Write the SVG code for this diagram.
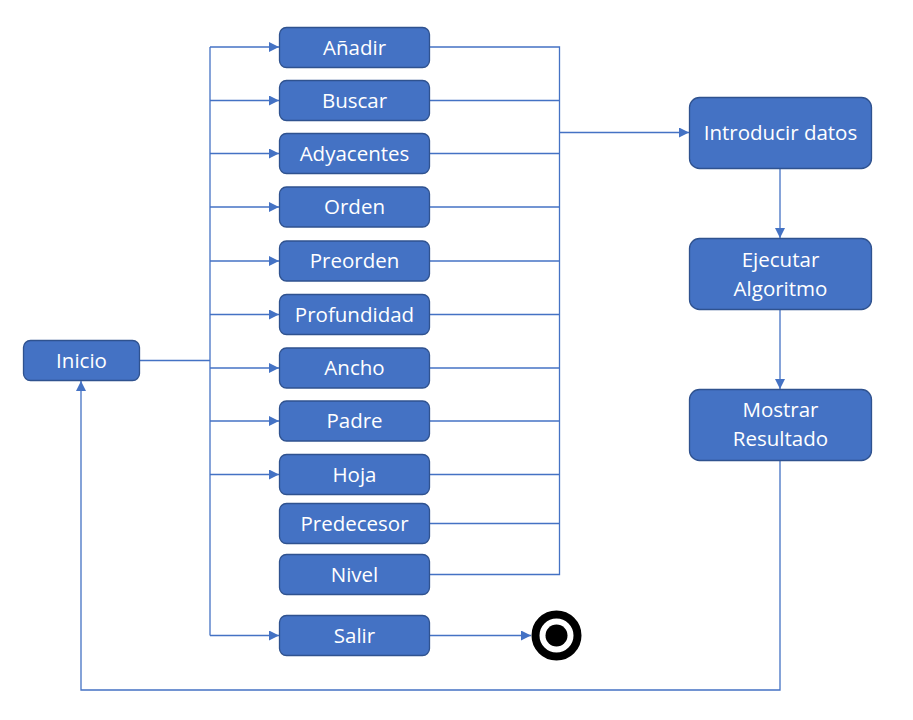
<svg xmlns="http://www.w3.org/2000/svg" width="913" height="720" viewBox="0 0 913 720">
<style>
.box{fill:#4472C4;stroke:#2F528F;stroke-width:1.3}
.t{fill:#ffffff;font-family:"Open Sans","Noto Sans","Liberation Sans",sans-serif;font-size:20.5px;text-anchor:middle}
.c{fill:none;stroke:#4472C4;stroke-width:1.3}
</style>
<defs>
<marker id="ah" viewBox="0 0 10 10" refX="10" refY="5" markerWidth="10" markerHeight="10" markerUnits="userSpaceOnUse" orient="auto">
<path d="M0,0 L10,5 L0,10 z" fill="#4472C4"/>
</marker>
</defs>
<rect width="913" height="720" fill="#ffffff"/>
<g id="connectors">
<path class="c" d="M139,360.5 H210"/>
<path class="c" d="M210,47 V635.5"/>
<path class="c" marker-end="url(#ah)" d="M210,47 H279"/>
<path class="c" marker-end="url(#ah)" d="M210,100.5 H279"/>
<path class="c" marker-end="url(#ah)" d="M210,153.5 H279"/>
<path class="c" marker-end="url(#ah)" d="M210,207 H279"/>
<path class="c" marker-end="url(#ah)" d="M210,261 H279"/>
<path class="c" marker-end="url(#ah)" d="M210,314.5 H279"/>
<path class="c" marker-end="url(#ah)" d="M210,368 H279"/>
<path class="c" marker-end="url(#ah)" d="M210,421 H279"/>
<path class="c" marker-end="url(#ah)" d="M210,474.5 H279"/>
<path class="c" marker-end="url(#ah)" d="M210,635.5 H279"/>
<path class="c" d="M430,47 H559.5 V574.5 H430"/>
<path class="c" d="M430,100.5 H559.5"/>
<path class="c" d="M430,153.5 H559.5"/>
<path class="c" d="M430,207 H559.5"/>
<path class="c" d="M430,261 H559.5"/>
<path class="c" d="M430,314.5 H559.5"/>
<path class="c" d="M430,368 H559.5"/>
<path class="c" d="M430,421 H559.5"/>
<path class="c" d="M430,474.5 H559.5"/>
<path class="c" d="M430,523.5 H559.5"/>
<path class="c" marker-end="url(#ah)" d="M559.5,132.5 H689"/>
<path class="c" marker-end="url(#ah)" d="M780,168 V238"/>
<path class="c" marker-end="url(#ah)" d="M780,309 V389"/>
<path class="c" marker-end="url(#ah)" d="M780,461 V690 H81 V381"/>
<path class="c" marker-end="url(#ah)" d="M430,635.5 H531"/>
</g>
<g id="inicio"><rect class="box" x="23.5" y="340.5" width="116" height="40" rx="7"/><text class="t" x="81.5" y="367.5">Inicio</text></g>
<g id="anadir"><rect class="box" x="279.5" y="27.5" width="150" height="40" rx="7"/><text class="t" x="354.5" y="54.5">Añadir</text></g>
<g id="buscar"><rect class="box" x="279.5" y="80.5" width="150" height="40" rx="7"/><text class="t" x="354.5" y="107.5">Buscar</text></g>
<g id="adyacentes"><rect class="box" x="279.5" y="133.5" width="150" height="40" rx="7"/><text class="t" x="354.5" y="160.5">Adyacentes</text></g>
<g id="orden"><rect class="box" x="279.5" y="187" width="150" height="40" rx="7"/><text class="t" x="354.5" y="214">Orden</text></g>
<g id="preorden"><rect class="box" x="279.5" y="241" width="150" height="40" rx="7"/><text class="t" x="354.5" y="268">Preorden</text></g>
<g id="profundidad"><rect class="box" x="279.5" y="294.5" width="150" height="40" rx="7"/><text class="t" x="354.5" y="321.5">Profundidad</text></g>
<g id="ancho"><rect class="box" x="279.5" y="348" width="150" height="40" rx="7"/><text class="t" x="354.5" y="375">Ancho</text></g>
<g id="padre"><rect class="box" x="279.5" y="401" width="150" height="40" rx="7"/><text class="t" x="354.5" y="428">Padre</text></g>
<g id="hoja"><rect class="box" x="279.5" y="454.5" width="150" height="40" rx="7"/><text class="t" x="354.5" y="481.5">Hoja</text></g>
<g id="predecesor"><rect class="box" x="279.5" y="503.5" width="150" height="40" rx="7"/><text class="t" x="354.5" y="530.5">Predecesor</text></g>
<g id="nivel"><rect class="box" x="279.5" y="554.5" width="150" height="40" rx="7"/><text class="t" x="354.5" y="581.5">Nivel</text></g>
<g id="salir"><rect class="box" x="279.5" y="615.5" width="150" height="40" rx="7"/><text class="t" x="354.5" y="642.5">Salir</text></g>
<g id="fin"><circle cx="556.5" cy="635.5" r="21" fill="#ffffff" stroke="#000000" stroke-width="8"/><circle cx="556.5" cy="635.5" r="11" fill="#000000"/></g>
<g id="introducir"><rect class="box" x="689.5" y="97.5" width="182" height="71" rx="10"/><text class="t" x="780.5" y="140">Introducir datos</text></g>
<g id="ejecutar"><rect class="box" x="689.5" y="238.5" width="182" height="71" rx="10"/><text class="t" x="780.5" y="267">Ejecutar</text><text class="t" x="780.5" y="296">Algoritmo</text></g>
<g id="mostrar"><rect class="box" x="689.5" y="389.5" width="182" height="71" rx="10"/><text class="t" x="780.5" y="417">Mostrar</text><text class="t" x="780.5" y="445.5">Resultado</text></g>
</svg>
